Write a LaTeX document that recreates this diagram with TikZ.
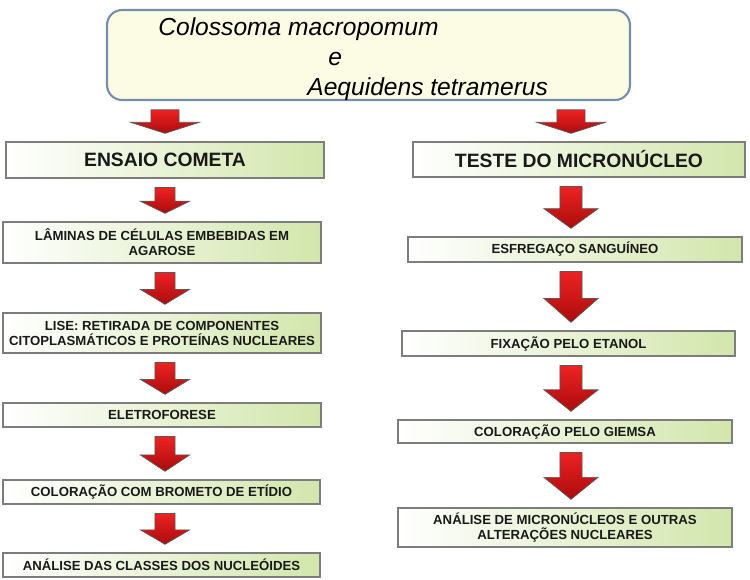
\documentclass[tikz,border=0pt]{standalone}
\usepackage{fontspec}
\setmainfont{Liberation Sans}
\usetikzlibrary{calc}

\definecolor{boxgreen}{RGB}{210,230,172}
\definecolor{boxline}{RGB}{125,125,125}
\definecolor{creamfill}{RGB}{252,252,228}
\definecolor{creamline}{RGB}{120,140,172}
\definecolor{arrowtop}{RGB}{238,34,34}
\definecolor{arrowbot}{RGB}{170,12,12}

\newcommand{\flowarrow}[4][1]{%
  \path[redarrow] let \p1=(#2), \p2=(#3.south), \p3=(#4.north),
      \n1={\y2-5pt}, \n2={\y3+4.5pt}, \n3={\n1+0.53*(\n2-\n1)},
      \n4={#1*5.7pt}, \n5={#1*14pt} in
    (\x1-\n4,\n1) -- (\x1+\n4,\n1) -- (\x1+\n4,\n3) -- (\x1+\n5,\n3)
    -- (\x1,\n2) -- (\x1-\n5,\n3) -- (\x1-\n4,\n3) -- cycle;
}

\begin{document}
\begin{tikzpicture}[x=0.02cm, y=-0.02cm,
  stepbox/.style={rectangle, draw=boxline, line width=0.9pt, inner sep=0pt,
    left color=white, middle color=white!80!boxgreen, right color=boxgreen,
    text=black!90, align=center},
  headbox/.style={stepbox, font=\fontsize{11}{13}\selectfont\bfseries},
  smallbox/.style={stepbox, font=\fontsize{7.5}{8.5}\selectfont\bfseries},
  species/.style={anchor=base west, inner sep=0pt, font=\fontsize{14}{16}\selectfont\itshape},
  redarrow/.style={draw=black!65, line width=0.4pt, top color=arrowtop, bottom color=arrowbot}]
\useasboundingbox (0,0) rectangle (750,579);
\coordinate (colL) at (165,0);
\coordinate (colR) at (571,0);
\node[draw=creamline, line width=1.2pt, fill=creamfill, rounded corners=0.3cm,
  minimum width=10.46cm, minimum height=1.8cm] (fish) at (368.5,55) {};
\node[species] (fishA) at (158,35) {Colossoma macropomum};
\node[species] (fishE) at (328,65) {e};
\node[species] (fishB) at (307,95) {Aequidens tetramerus};
\node[headbox, minimum width=6.36cm, minimum height=0.72cm] (ensaio) at (165,160) {ENSAIO COMETA};
\node[smallbox, minimum width=6.36cm, minimum height=0.82cm] (laminas) at (162,242.5) {LÂMINAS DE CÉLULAS EMBEBIDAS EM\\AGAROSE};
\node[smallbox, minimum width=6.36cm, minimum height=0.8cm] (lise) at (162,333) {LISE: RETIRADA DE COMPONENTES\\CITOPLASMÁTICOS E PROTEÍNAS NUCLEARES};
\node[smallbox, minimum width=6.36cm, minimum height=0.48cm] (eletro) at (162,415) {ELETROFORESE};
\node[smallbox, minimum width=6.34cm, minimum height=0.48cm] (brometo) at (161.5,492) {COLORAÇÃO COM BROMETO DE ETÍDIO};
\node[smallbox, minimum width=6.34cm, minimum height=0.48cm] (classes) at (161.5,565) {ANÁLISE DAS CLASSES DOS NUCLEÓIDES};
\node[headbox, minimum width=6.64cm, minimum height=0.7cm] (teste) at (579,159.5) {TESTE DO MICRONÚCLEO};
\node[smallbox, minimum width=6.68cm, minimum height=0.5cm] (esfregaco) at (575,249.5) {ESFREGAÇO SANGUÍNEO};
\node[smallbox, minimum width=6.66cm, minimum height=0.5cm] (fixacao) at (568.5,343.5) {FIXAÇÃO PELO ETANOL};
\node[smallbox, minimum width=6.68cm, minimum height=0.46cm] (giemsa) at (565,431.5) {COLORAÇÃO PELO GIEMSA};
\node[smallbox, minimum width=6.68cm, minimum height=0.78cm] (micro) at (565,527.5) {ANÁLISE DE MICRONÚCLEOS E OUTRAS\\ALTERAÇÕES NUCLEARES};
\flowarrow[1.4]{colL}{fish}{ensaio}
\flowarrow{colL}{ensaio}{laminas}
\flowarrow{colL}{laminas}{lise}
\flowarrow{colL}{lise}{eletro}
\flowarrow{colL}{eletro}{brometo}
\flowarrow{colL}{brometo}{classes}
\flowarrow[1.4]{colR}{fish}{teste}
\flowarrow[1.1]{colR}{teste}{esfregaco}
\flowarrow[1.1]{colR}{esfregaco}{fixacao}
\flowarrow[1.1]{colR}{fixacao}{giemsa}
\flowarrow[1.1]{colR}{giemsa}{micro}
\end{tikzpicture}
\end{document}
